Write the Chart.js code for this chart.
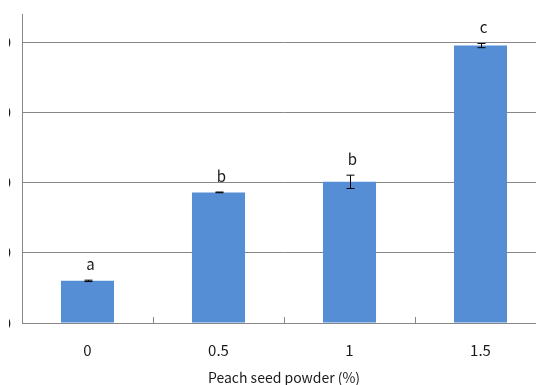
<!DOCTYPE html>
<html>
<head>
<meta charset="utf-8">
<script src="https://cdn.jsdelivr.net/npm/chart.js@4"></script>
<style>
	html, body { margin: 0; padding: 0; background: #fff; overflow: hidden; }
	#wrap { position: relative; width: 536px; height: 385px; overflow: hidden; }
	#chart { position: absolute; left: -30px; top: 0; }
	#cover { position: absolute; left: 0; top: 0; width: 9px; height: 385px; background: #fff; }
</style>
</head>
<body>
<div id="wrap">
	<canvas id="chart" width="600" height="385"></canvas>
	<div id="cover"></div>
</div>
<script>
// Data
const categories = ['0', '0.5', '1', '1.5'];
const means = [6.0, 18.6, 20.1, 39.5];
const errors = [0.1, 0.05, 0.95, 0.3];
const letters = ['a', 'b', 'b', 'c'];
const yTicks = [0, 10, 20, 30, 40];
const yMax = 44;

const FONT = '"Noto Sans CJK KR", "Noto Sans", sans-serif';
const AXIS_GREY = '#878787';

// Error bars + significance letters
const errorBarPlugin = {
	id: 'errorBars',
	afterDatasetsDraw(chart) {
		const { ctx, scales: { y } } = chart;
		const meta = chart.getDatasetMeta(0);
		ctx.save();
		ctx.strokeStyle = '#000';
		ctx.lineWidth = 1;
		meta.data.forEach((bar, i) => {
			const x = Math.round(bar.x) + 0.5;
			const top = y.getPixelForValue(means[i] + errors[i]);
			const bottom = y.getPixelForValue(means[i] - errors[i]);
			ctx.beginPath();
			ctx.moveTo(x, top);
			ctx.lineTo(x, bottom);
			ctx.moveTo(x - 4, top);
			ctx.lineTo(x + 4, top);
			ctx.moveTo(x - 4, bottom);
			ctx.lineTo(x + 4, bottom);
			ctx.stroke();

			ctx.fillStyle = '#1a1a1a';
			ctx.font = `15px ${FONT}`;
			ctx.textAlign = 'center';
			ctx.textBaseline = 'alphabetic';
			ctx.fillText(letters[i], bar.x + 3, top - 10);
		});
		ctx.restore();
	}
};

// Short tick marks pointing up from the x axis, between categories
const innerTicksPlugin = {
	id: 'innerTicks',
	afterDraw(chart) {
		const { ctx, chartArea, scales: { x } } = chart;
		const half = (x.getPixelForValue(1) - x.getPixelForValue(0)) / 2;
		ctx.save();
		ctx.strokeStyle = AXIS_GREY;
		ctx.lineWidth = 1;
		for (let i = 0; i < categories.length; i++) {
			const px = Math.round(x.getPixelForValue(i) + half) + 0.5;
			ctx.beginPath();
			ctx.moveTo(px, chartArea.bottom);
			ctx.lineTo(px, chartArea.bottom - 6);
			ctx.stroke();
		}
		ctx.restore();
	}
};

new Chart(document.getElementById('chart'), {
	type: 'bar',
	data: {
		labels: categories,
		datasets: [{
			data: means,
			backgroundColor: '#558ED5',
			borderWidth: 0,
			barPercentage: 0.405,
			categoryPercentage: 1
		}]
	},
	options: {
		responsive: false,
		animation: false,
		layout: { padding: { left: 0, right: 24, top: 14, bottom: 0 } },
		plugins: {
			legend: { display: false },
			tooltip: { enabled: false }
		},
		scales: {
			x: {
				grid: { display: false, drawTicks: false },
				border: { display: true, color: AXIS_GREY, width: 1 },
				ticks: {
					color: '#1a1a1a',
					font: { family: FONT, size: 15 },
					padding: 18
				},
				title: {
					display: true,
					text: 'Peach seed powder (%)',
					color: '#1a1a1a',
					font: { family: FONT, size: 14, lineHeight: 1 },
					padding: { top: 0, bottom: 0 }
				},
				afterFit(scale) {
					scale.height = 62;
					scale.paddingLeft = 0;
					scale.paddingRight = 0;
				}
			},
			y: {
				min: 0,
				max: yMax,
				grid: { color: AXIS_GREY, lineWidth: 1, drawTicks: false },
				border: { display: true, color: AXIS_GREY, width: 1 },
				ticks: {
					color: '#1a1a1a',
					font: { family: FONT, size: 15 },
					padding: 11
				},
				afterBuildTicks(scale) { scale.ticks = yTicks.map(v => ({ value: v })); },
				afterFit(scale) {
					scale.width = 52;
					scale.paddingTop = 0;
					scale.paddingBottom = 0;
				}
			}
		}
	},
	plugins: [errorBarPlugin, innerTicksPlugin]
});
</script>
</body>
</html>
